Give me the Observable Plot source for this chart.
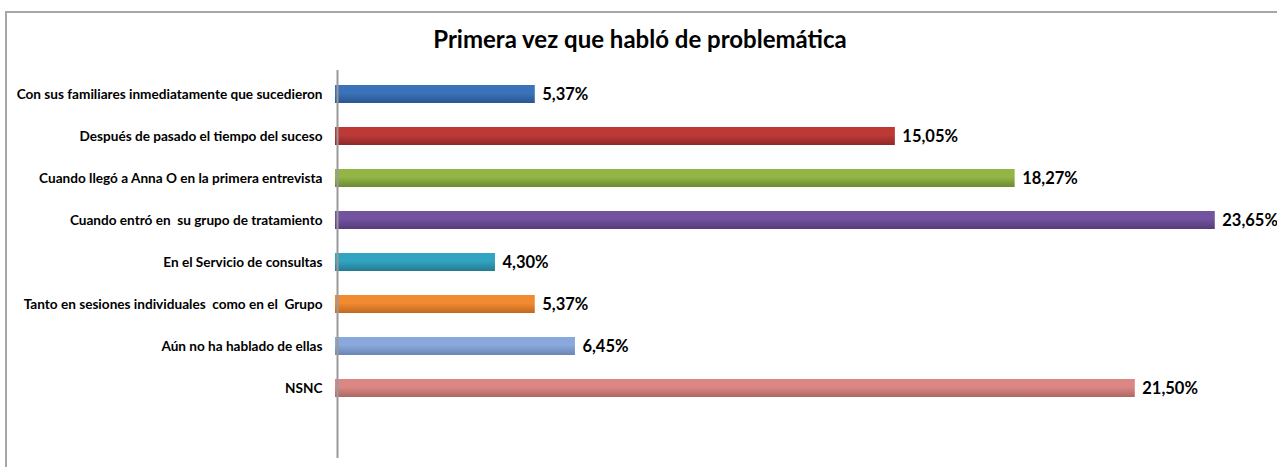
<!DOCTYPE html>
<html>
<head>
<meta charset="utf-8">
<script src="https://cdn.jsdelivr.net/npm/d3@7"></script>
<script src="https://cdn.jsdelivr.net/npm/@observablehq/plot@0.6"></script>
<style>
  html, body { margin: 0; padding: 0; background: #fff; }
  #wrap { position: relative; width: 1277px; height: 467px; overflow: hidden; font-family: Lato, "Open Sans", sans-serif; }
  #frame { position: absolute; left: 5px; top: 11px; width: 1290px; height: 480px; border-left: 2px solid #a6a6a6; border-top: 2px solid #a6a6a6; box-sizing: border-box; }
  #title { position: absolute; left: 0; width: 1280px; top: 25px; text-align: center; font-size: 24px; font-weight: bold; color: #000; line-height: 28px; }
  #chart { position: absolute; left: 0; top: 0; }
</style>
</head>
<body>
<div id="wrap">
  <div id="frame"></div>
  <div id="chart"></div>
  <div id="title">Primera vez que habló de problemática</div>
</div>
<script>
const categories = [
  "Con sus familiares inmediatamente que sucedieron",
  "Después de pasado el tiempo del suceso",
  "Cuando llegó a Anna O en la primera entrevista",
  "Cuando entró en  su grupo de tratamiento",
  "En el Servicio de consultas",
  "Tanto en sesiones individuales  como en el  Grupo",
  "Aún no ha hablado de ellas",
  "NSNC"
];
const values = [5.37, 15.05, 18.27, 23.65, 4.30, 5.37, 6.45, 21.50];
const valueLabels = ["5,37%", "15,05%", "18,27%", "23,65%", "4,30%", "5,37%", "6,45%", "21,50%"];
const topColors = ["#3b73ba", "#bc3936", "#92b545", "#7352a0", "#32a4c2", "#f28a30", "#89a9dc", "#dc8784"];
const bottomColors = ["#2a5590", "#8e2a28", "#6b8a32", "#553c78", "#247a90", "#c0681f", "#6a86b4", "#ad6765"];

const data = categories.map((c, i) => ({cat: c, value: values[i], label: valueLabels[i], grad: `url(#g${i})`}));

const defsMark = () => {
  const defs = d3.create("svg:defs");
  topColors.forEach((t, i) => {
    const g = defs.append("linearGradient").attr("id", `g${i}`).attr("x1", 0).attr("y1", 0).attr("x2", 0).attr("y2", 1);
    g.append("stop").attr("offset", "0%").attr("stop-color", t);
    g.append("stop").attr("offset", "45%").attr("stop-color", t);
    g.append("stop").attr("offset", "100%").attr("stop-color", bottomColors[i]);
  });
  return defs.node();
};

const chart = Plot.plot({
  width: 1277,
  height: 467,
  marginLeft: 335,
  marginRight: 12,
  marginTop: 70,
  marginBottom: 9,
  style: {fontFamily: "Lato, 'Open Sans', sans-serif", background: "transparent"},
  x: {domain: [0, 25], axis: null},
  y: {domain: categories, range: [58.5, 424.4], padding: 0.57, label: null},
  color: {type: "identity"},
  marks: [
    defsMark,
    Plot.barX(data, {y: "cat", x: "value", fill: "grad"}),
    Plot.ruleX([0], {stroke: "#9a9a9a", strokeWidth: 2, dx: 2}),
    Plot.axisY({tickSize: 0, tickPadding: 13, fontSize: 13.6, fontWeight: "bold", fill: "#000", label: null}),
    Plot.text(data, {y: "cat", x: "value", text: "label", textAnchor: "start", dx: 7, fontSize: 16.5, fontWeight: "bold", fill: "#000"})
  ]
});
document.getElementById("chart").appendChild(chart);
</script>
</body>
</html>
